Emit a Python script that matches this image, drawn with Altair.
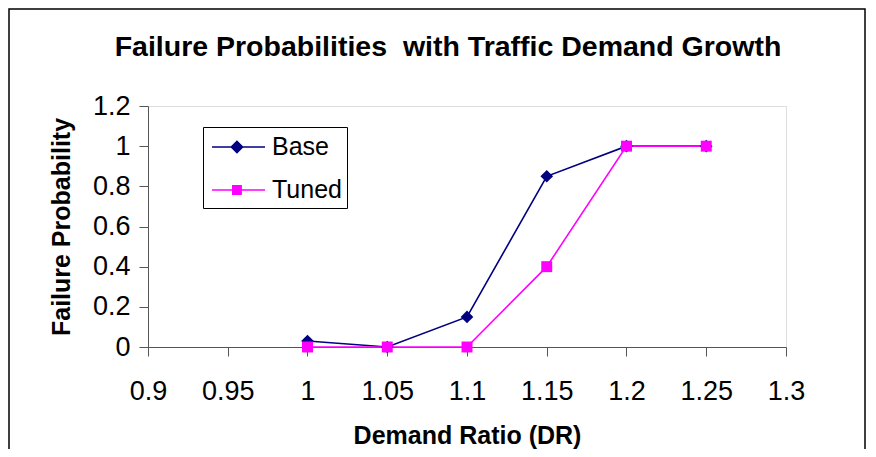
import altair as alt
import pandas as pd

# ---- data ----
demand_ratio = [1.0, 1.05, 1.1, 1.15, 1.2, 1.25]
base_prob = [0.03, 0.0, 0.15, 0.85, 1.0, 1.0]
tuned_prob = [0.0, 0.0, 0.0, 0.40, 1.0, 1.0]
series_names = ["Base", "Tuned"]
series_colors = ["#000080", "#FF00FF"]
x_ticks = [0.9, 0.95, 1.0, 1.05, 1.1, 1.15, 1.2, 1.25, 1.3]
y_ticks = [0, 0.2, 0.4, 0.6, 0.8, 1.0, 1.2]
chart_title = ["Failure Probabilities\u00a0 with Traffic Demand Growth"]

df = pd.DataFrame(
    {
        "dr": demand_ratio * 2,
        "prob": base_prob + tuned_prob,
        "series": [series_names[0]] * len(demand_ratio) + [series_names[1]] * len(demand_ratio),
    }
)

FONT = "Liberation Sans"
W, H = 638, 241

x_enc = alt.X(
    "dr:Q",
    scale=alt.Scale(domain=[0.9, 1.3], nice=False, zero=False),
    axis=alt.Axis(
        values=x_ticks,
        format="~g",
        title="Demand Ratio (DR)",
        grid=False,
        domainColor="#555555",
        tickColor="#555555",
        tickSize=9,
        labelFont=FONT,
        labelFontSize=27,
        labelColor="black",
        labelPadding=22,
        labelFlush=False,
        labelOverlap=False,
        titleFont=FONT,
        titleFontSize=25,
        titleFontWeight="bold",
        titleColor="black",
        titlePadding=19,
    ),
)
y_enc = alt.Y(
    "prob:Q",
    scale=alt.Scale(domain=[0, 1.2], nice=False),
    axis=alt.Axis(
        values=y_ticks,
        format="~g",
        title="Failure Probability",
        grid=False,
        domainColor="#555555",
        tickColor="#555555",
        tickSize=9,
        labelFont=FONT,
        labelFontSize=27,
        labelColor="black",
        labelPadding=9,
        labelFlush=False,
        labelOverlap=False,
        titleFont=FONT,
        titleFontSize=25,
        titleFontWeight="bold",
        titleColor="black",
        titlePadding=18,
    ),
)

# legend glyphs: a short line with the marker on it (filled shapes only)
base_path = "M-0.73,-0.05H2.8V0.05H-0.73ZM0.93,-0.45L1.38,0L0.93,0.45L0.48,0Z"
tuned_path = "M-0.73,-0.05H2.8V0.05H-0.73ZM0.6,-0.33H1.26V0.33H0.6Z"

legend = alt.Legend(
    title=None,
    orient="none",
    legendX=55,
    legendY=21,
    padding=5,
    strokeColor="black",
    fillColor="white",
    labelFont=FONT,
    labelFontSize=25,
    labelColor="black",
    labelOffset=34,
    rowPadding=15,
    symbolSize=900,
    symbolStrokeWidth=0,
    symbolOpacity=1,
)

legend_layer = alt.Chart(df).mark_point(filled=True, opacity=0, size=1).encode(
    x=x_enc,
    y=y_enc,
    color=alt.Color(
        "series:N",
        scale=alt.Scale(domain=series_names, range=series_colors),
        sort=series_names,
        legend=legend,
    ),
    shape=alt.Shape(
        "series:N",
        scale=alt.Scale(domain=series_names, range=[base_path, tuned_path]),
        sort=series_names,
        legend=legend,
    ),
)


def series_layers(name, color, shape, size):
    base = alt.Chart(df).transform_filter(alt.datum.series == name)
    line = base.mark_line(strokeWidth=1.6, color=color).encode(x="dr:Q", y="prob:Q")
    pts = base.mark_point(
        filled=True, size=size, opacity=1, strokeWidth=0, color=color, shape=shape
    ).encode(x="dr:Q", y="prob:Q")
    return line, pts


base_line, base_pts = series_layers(series_names[0], series_colors[0], "diamond", 160)
tuned_line, tuned_pts = series_layers(series_names[1], series_colors[1], "square", 120)

border = alt.Chart(pd.DataFrame({"a": [0]})).mark_rect(
    fill=None, stroke="black", strokeWidth=1.5, clip=False
).encode(
    x=alt.value(-139),
    x2=alt.value(W + 79),
    y=alt.value(-97),
    y2=alt.value(H + 200),
)

title = alt.Chart(pd.DataFrame({"t": chart_title})).mark_text(
    font=FONT,
    fontSize=28.5,
    fontWeight="bold",
    color="black",
    align="center",
    baseline="alphabetic",
    clip=False,
).encode(text="t:N", x=alt.value(300), y=alt.value(-50))

chart = (
    alt.layer(border, title, legend_layer, base_line, tuned_line, base_pts, tuned_pts)
    .properties(
        width=W,
        height=H,
        autosize=alt.AutoSizeParams(type="none"),
        padding={"left": 140, "top": 98, "right": 80, "bottom": 102},
    )
    .configure_view(stroke=None)
    .configure(background="white")
)

chart.save("out.html", embed_options={"renderer": "svg", "actions": False})
